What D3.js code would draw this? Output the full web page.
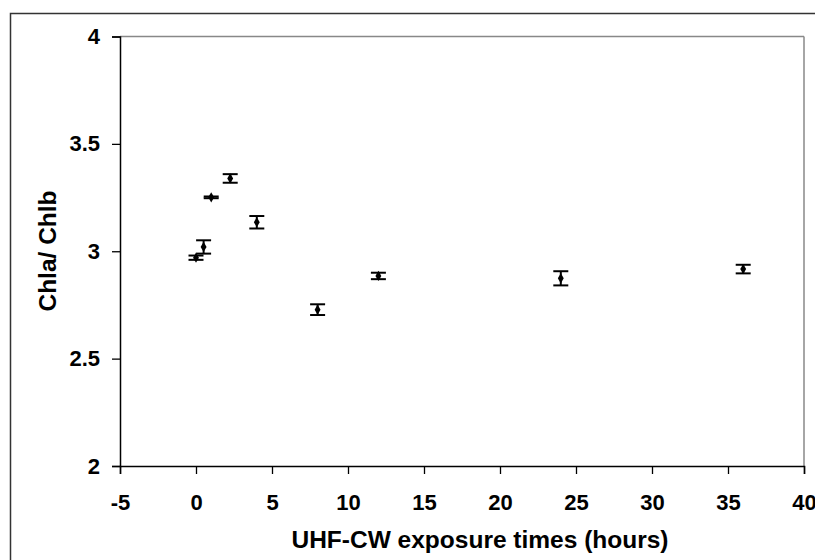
<!DOCTYPE html>
<html>
<head>
<meta charset="utf-8">
<script src="https://cdn.jsdelivr.net/npm/d3@7/dist/d3.min.js"></script>
<style>
html,body{margin:0;padding:0;background:#fff;}
svg{display:block;}
text{font-family:"Liberation Sans",Arial,sans-serif;font-weight:bold;fill:#000;}
</style>
</head>
<body>
<svg id="chart" width="815" height="560"></svg>
<script>
// Data
const hours = [0, 0.5, 1, 2.25, 4, 8, 12, 24, 36];
const ratio = [2.97, 3.02, 3.251, 3.339, 3.135, 2.728, 2.885, 2.874, 2.917];
const errors = [0.01, 0.031, 0.004, 0.02, 0.029, 0.025, 0.015, 0.033, 0.02];
const xTicks = [-5, 0, 5, 10, 15, 20, 25, 30, 35, 40];
const yTicks = [2, 2.5, 3, 3.5, 4];

const svg = d3.select("#chart");
const L = 120, R = 804, T = 36.5, B = 466;

// outer chart border (cropped)
svg.append("rect").attr("x", 10.5).attr("y", 13.5).attr("width", 900).attr("height", 700)
  .attr("fill", "none").attr("stroke", "#333").attr("stroke-width", 1.5);

const x = d3.scaleLinear().domain([-5, 40]).range([L, R]);
const y = d3.scaleLinear().domain([2, 4]).range([B, T]);

// plot area top/right borders
svg.append("line").attr("x1", L).attr("x2", R).attr("y1", T).attr("y2", T).attr("stroke", "#888").attr("stroke-width", 1.5);
svg.append("line").attr("x1", R).attr("x2", R).attr("y1", T).attr("y2", B).attr("stroke", "#888").attr("stroke-width", 1.5);

// axes
const xAxis = d3.axisBottom(x).tickValues(xTicks).tickSize(8).tickPadding(20).tickFormat(d => String(d));
const gx = svg.append("g").attr("transform", `translate(0,${B})`).call(xAxis);
const yAxis = d3.axisLeft(y).tickValues(yTicks).tickSize(8).tickPadding(12).tickFormat(d => String(d));
const gy = svg.append("g").attr("transform", `translate(${L},0)`).call(yAxis);
[gx, gy].forEach(g => {
  g.select(".domain").attr("stroke", "#000").attr("stroke-width", 1.5);
  g.selectAll(".tick line").attr("stroke", "#000").attr("stroke-width", 1.3);
  g.selectAll(".tick text").attr("font-size", 22).attr("font-family", "Liberation Sans, Arial, sans-serif").attr("font-weight", "bold").attr("fill", "#000");
});

// axis titles
svg.append("text").attr("x", 480).attr("y", 548).attr("text-anchor", "middle")
  .attr("font-size", 24.5).text("UHF-CW exposure times (hours)");
svg.append("text").attr("transform", `translate(56,251) rotate(-90)`).attr("text-anchor", "middle")
  .attr("font-size", 24.5).text("Chla/ Chlb");

// error bars and markers
const data = hours.map((h, i) => ({h, v: ratio[i], e: errors[i]}));
const cap = 7.5;
const g = svg.append("g");
data.forEach(d => {
  const cx = x(d.h);
  g.append("line").attr("x1", cx).attr("x2", cx).attr("y1", y(d.v + d.e)).attr("y2", y(d.v - d.e)).attr("stroke", "#000").attr("stroke-width", 2);
  [d.v + d.e, d.v - d.e].forEach(v => {
    g.append("line").attr("x1", cx - cap).attr("x2", cx + cap).attr("y1", y(v)).attr("y2", y(v)).attr("stroke", "#000").attr("stroke-width", 2);
  });
  g.append("path").attr("transform", `translate(${cx},${y(d.v)})`)
    .attr("d", d3.symbol().type(d3.symbolDiamond).size(30)()).attr("fill", "#000");
});
</script>
</body>
</html>
